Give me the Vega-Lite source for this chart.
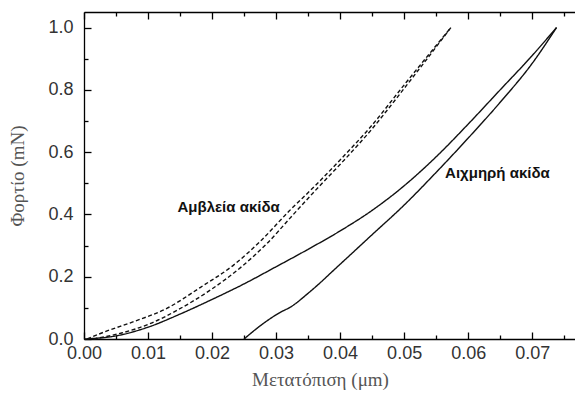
{
  "$schema": "https://vega.github.io/schema/vega-lite/v6.json",
  "width": 493,
  "height": 327,
  "autosize": "none",
  "padding": {"left": 84, "top": 12, "right": 0, "bottom": 57},
  "background": "white",
  "config": {
    "view": {"stroke": null},
    "axis": {
      "domainColor": "#000",
      "tickColor": "#000",
      "domainWidth": 1.3,
      "tickWidth": 1.3,
      "grid": false,
      "labelFont": "Liberation Sans",
      "labelFontSize": 18,
      "labelColor": "#333",
      "titleFont": "Liberation Serif",
      "titleFontSize": 19,
      "titleFontWeight": "normal",
      "titleColor": "#555"
    }
  },
  "resolve": {"axis": {"x": "independent", "y": "independent"}},
  "layer": [
    {
      "data": {"values": [
        {"series": "blunt_load", "tip": "blunt", "x": 0.0005, "y": 0},
        {"series": "blunt_load", "tip": "blunt", "x": 0.0031, "y": 0.022},
        {"series": "blunt_load", "tip": "blunt", "x": 0.0078, "y": 0.056},
        {"series": "blunt_load", "tip": "blunt", "x": 0.013, "y": 0.099},
        {"series": "blunt_load", "tip": "blunt", "x": 0.0182, "y": 0.166},
        {"series": "blunt_load", "tip": "blunt", "x": 0.0234, "y": 0.238},
        {"series": "blunt_load", "tip": "blunt", "x": 0.0276, "y": 0.315},
        {"series": "blunt_load", "tip": "blunt", "x": 0.032, "y": 0.41},
        {"series": "blunt_load", "tip": "blunt", "x": 0.036, "y": 0.49},
        {"series": "blunt_load", "tip": "blunt", "x": 0.040, "y": 0.575},
        {"series": "blunt_load", "tip": "blunt", "x": 0.0445, "y": 0.675},
        {"series": "blunt_load", "tip": "blunt", "x": 0.0504, "y": 0.826},
        {"series": "blunt_load", "tip": "blunt", "x": 0.0573, "y": 1.0},
        {"series": "blunt_unload", "tip": "blunt", "x": 0.0015, "y": 0},
        {"series": "blunt_unload", "tip": "blunt", "x": 0.006, "y": 0.02},
        {"series": "blunt_unload", "tip": "blunt", "x": 0.0104, "y": 0.05},
        {"series": "blunt_unload", "tip": "blunt", "x": 0.0146, "y": 0.093},
        {"series": "blunt_unload", "tip": "blunt", "x": 0.0198, "y": 0.158},
        {"series": "blunt_unload", "tip": "blunt", "x": 0.0246, "y": 0.232},
        {"series": "blunt_unload", "tip": "blunt", "x": 0.0285, "y": 0.305},
        {"series": "blunt_unload", "tip": "blunt", "x": 0.0327, "y": 0.40},
        {"series": "blunt_unload", "tip": "blunt", "x": 0.0365, "y": 0.485},
        {"series": "blunt_unload", "tip": "blunt", "x": 0.0402, "y": 0.565},
        {"series": "blunt_unload", "tip": "blunt", "x": 0.0448, "y": 0.67},
        {"series": "blunt_unload", "tip": "blunt", "x": 0.0504, "y": 0.815},
        {"series": "blunt_unload", "tip": "blunt", "x": 0.0573, "y": 1.0},
        {"series": "sharp_load", "tip": "sharp", "x": 0, "y": 0},
        {"series": "sharp_load", "tip": "sharp", "x": 0.005, "y": 0.01},
        {"series": "sharp_load", "tip": "sharp", "x": 0.010, "y": 0.038},
        {"series": "sharp_load", "tip": "sharp", "x": 0.015, "y": 0.08},
        {"series": "sharp_load", "tip": "sharp", "x": 0.020, "y": 0.127},
        {"series": "sharp_load", "tip": "sharp", "x": 0.025, "y": 0.177},
        {"series": "sharp_load", "tip": "sharp", "x": 0.030, "y": 0.232},
        {"series": "sharp_load", "tip": "sharp", "x": 0.035, "y": 0.288},
        {"series": "sharp_load", "tip": "sharp", "x": 0.040, "y": 0.347},
        {"series": "sharp_load", "tip": "sharp", "x": 0.045, "y": 0.413},
        {"series": "sharp_load", "tip": "sharp", "x": 0.050, "y": 0.492},
        {"series": "sharp_load", "tip": "sharp", "x": 0.055, "y": 0.585},
        {"series": "sharp_load", "tip": "sharp", "x": 0.060, "y": 0.69},
        {"series": "sharp_load", "tip": "sharp", "x": 0.065, "y": 0.80},
        {"series": "sharp_load", "tip": "sharp", "x": 0.070, "y": 0.91},
        {"series": "sharp_load", "tip": "sharp", "x": 0.0738, "y": 1.0},
        {"series": "sharp_unload", "tip": "sharp", "x": 0.025, "y": 0},
        {"series": "sharp_unload", "tip": "sharp", "x": 0.0275, "y": 0.042},
        {"series": "sharp_unload", "tip": "sharp", "x": 0.0306, "y": 0.085},
        {"series": "sharp_unload", "tip": "sharp", "x": 0.0322, "y": 0.102},
        {"series": "sharp_unload", "tip": "sharp", "x": 0.0353, "y": 0.152},
        {"series": "sharp_unload", "tip": "sharp", "x": 0.040, "y": 0.24},
        {"series": "sharp_unload", "tip": "sharp", "x": 0.045, "y": 0.335},
        {"series": "sharp_unload", "tip": "sharp", "x": 0.050, "y": 0.43},
        {"series": "sharp_unload", "tip": "sharp", "x": 0.055, "y": 0.535},
        {"series": "sharp_unload", "tip": "sharp", "x": 0.060, "y": 0.645},
        {"series": "sharp_unload", "tip": "sharp", "x": 0.065, "y": 0.76},
        {"series": "sharp_unload", "tip": "sharp", "x": 0.070, "y": 0.885},
        {"series": "sharp_unload", "tip": "sharp", "x": 0.0738, "y": 1.0}
      ]},
      "mark": {"type": "line", "interpolate": "monotone", "color": "#111", "strokeWidth": 1.4},
      "encoding": {
        "x": {"field": "x", "type": "quantitative",
          "scale": {"domain": [0, 0.077], "nice": false, "zero": false},
          "axis": {"orient": "bottom", "values": [0, 0.01, 0.02, 0.03, 0.04, 0.05, 0.06, 0.07],
            "format": ".2f", "tickSize": -7, "labelPadding": 12, "labelFlush": false, "labelOverlap": false,
            "title": "Μετατόπιση (μm)", "titleX": 236, "titleY": 46, "titleBaseline": "alphabetic", "titleAlign": "center"}},
        "y": {"field": "y", "type": "quantitative",
          "scale": {"domain": [0, 1.05], "nice": false, "zero": false},
          "axis": {"orient": "left", "values": [0, 0.2, 0.4, 0.6, 0.8, 1.0],
            "format": ".1f", "tickSize": -7, "labelPadding": 18, "labelFlush": false, "labelOverlap": false,
            "title": "Φορτίο (mN)", "titleX": -61, "titleY": 163.5, "titleBaseline": "alphabetic", "titleAlign": "center"}},
        "detail": {"field": "series"},
        "strokeDash": {"field": "tip", "type": "nominal",
          "scale": {"domain": ["blunt", "sharp"], "range": [[4, 2.5], [1, 0]]}, "legend": null}
      }
    },
    {
      "data": {"values": [
        {"label": "Αμβλεία ακίδα", "x": 0.0146, "y": 0.424},
        {"label": "Αιχμηρή ακίδα", "x": 0.0564, "y": 0.533}
      ]},
      "mark": {"type": "text", "align": "left", "baseline": "middle", "font": "Liberation Sans", "fontSize": 15, "fontWeight": "bold", "color": "#111"},
      "encoding": {
        "x": {"field": "x", "type": "quantitative",
          "axis": {"orient": "bottom", "values": [0.005, 0.015, 0.025, 0.035, 0.045, 0.055, 0.065, 0.075],
            "tickSize": -4, "labels": false, "domain": false, "title": null}},
        "y": {"field": "y", "type": "quantitative",
          "axis": {"orient": "left", "values": [0.1, 0.3, 0.5, 0.7, 0.9],
            "tickSize": -4, "labels": false, "domain": false, "title": null}},
        "text": {"field": "label"}
      }
    },
    {
      "data": {"values": [{"x": 0.01, "y": 0.5}]},
      "mark": {"type": "point", "opacity": 0},
      "encoding": {
        "x": {"field": "x", "type": "quantitative",
          "axis": {"orient": "top", "values": [0, 0.01, 0.02, 0.03, 0.04, 0.05, 0.06, 0.07],
            "tickSize": -7, "labels": false, "domain": true, "title": null}},
        "y": {"field": "y", "type": "quantitative", "axis": null}
      }
    },
    {
      "data": {"values": [{"x": 0.01, "y": 0.5}]},
      "mark": {"type": "point", "opacity": 0},
      "encoding": {
        "x": {"field": "x", "type": "quantitative",
          "axis": {"orient": "top", "values": [0.005, 0.015, 0.025, 0.035, 0.045, 0.055, 0.065, 0.075],
            "tickSize": -4, "labels": false, "domain": false, "title": null}},
        "y": {"field": "y", "type": "quantitative", "axis": null}
      }
    }
  ]
}
